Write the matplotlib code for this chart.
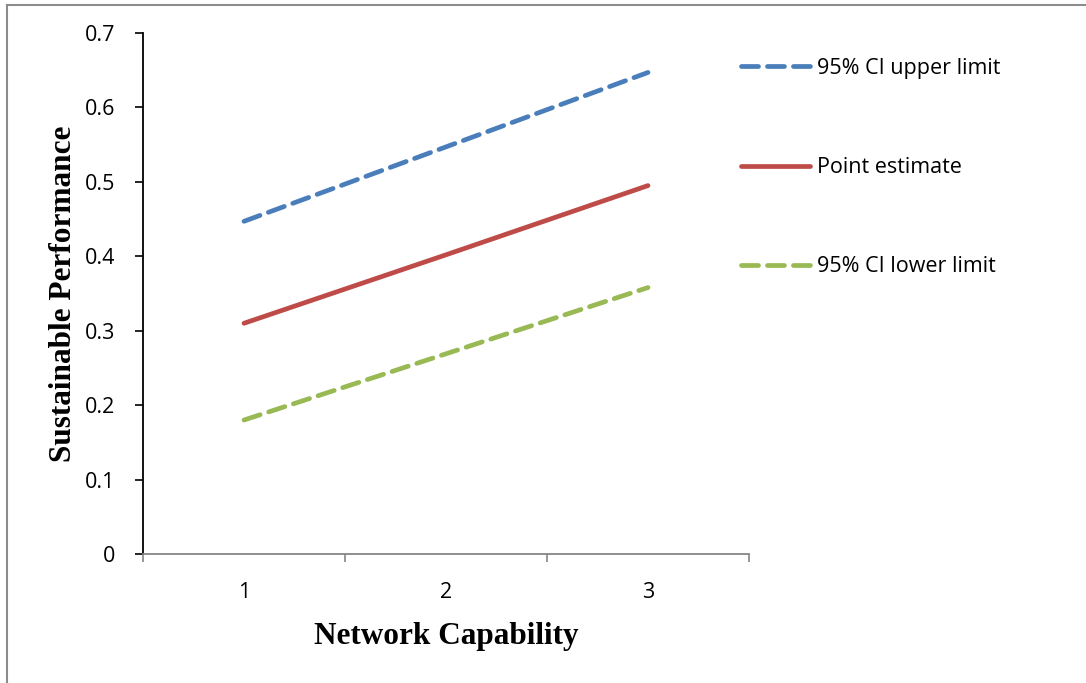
import matplotlib.pyplot as plt
from matplotlib.lines import Line2D

# Data
categories = [1, 2, 3]
upper = [0.447, 0.547, 0.647]
point = [0.310, 0.402, 0.495]
lower = [0.180, 0.269, 0.358]
labels = ['95% CI upper limit', 'Point estimate', '95% CI lower limit']

tick_font = 'Open Sans'
title_font = 'Liberation Serif'
fs = 15.5

fig = plt.figure(figsize=(10.86, 6.83), dpi=100)
W, H = 1086, 683

# axes box: x 143..749 px, y 33..554 px
ax = fig.add_axes([143 / W, 1 - 554 / H, 606 / W, 521 / H])

lw = 3.4
dash = (3.6, 1.9)
ax.plot(categories, upper, color='#4A7EBB', lw=lw, linestyle=(0, dash),
        dash_capstyle='round', label=labels[0])
ax.plot(categories, point, color='#BE4B48', lw=lw, solid_capstyle='round',
        label=labels[1])
ax.plot(categories, lower, color='#98B954', lw=lw, linestyle=(0, dash),
        dash_capstyle='round', label=labels[2])

ax.set_xlim(0.5, 3.5)
ax.set_ylim(0, 0.7)
ax.set_yticks([0, 0.1, 0.2, 0.3, 0.4, 0.5, 0.6, 0.7])
ax.set_yticklabels(['0', '0.1', '0.2', '0.3', '0.4', '0.5', '0.6', '0.7'],
                   fontfamily=tick_font, fontsize=fs)
ax.set_xticks([1, 2, 3])
ax.set_xticklabels(['1', '2', '3'], fontfamily=tick_font, fontsize=fs)
ax.set_xticks([0.5, 1.5, 2.5, 3.5], minor=True)
ax.tick_params(axis='x', which='major', length=0, pad=20)
ax.tick_params(axis='x', which='minor', length=6, color='#868686', width=1.2)
ax.tick_params(axis='y', length=6, color='black', width=1.2, pad=14)

for s in ['top', 'right']:
    ax.spines[s].set_visible(False)
ax.spines['left'].set_color('black')
ax.spines['left'].set_linewidth(1.3)
ax.spines['bottom'].set_color('#868686')
ax.spines['bottom'].set_linewidth(1.3)

ax.set_xlabel('Network Capability', fontfamily=title_font, fontweight='bold',
              fontsize=22.5, labelpad=14)
ax.set_ylabel('Sustainable Performance', fontfamily=title_font, fontweight='bold',
              fontsize=22.5, labelpad=5)

leg = ax.legend(loc='upper left', bbox_to_anchor=(741 / W, 1 - 58 / H),
                bbox_transform=fig.transFigure, frameon=False,
                prop={'family': tick_font, 'size': fs},
                handlelength=3.2, handletextpad=0.35, labelspacing=3.63,
                borderpad=0, borderaxespad=0)

# outer gray frame (left and top edges)
fig.add_artist(Line2D([7 / W, 7 / W], [0, 1 - 5 / H], transform=fig.transFigure,
                      color='#8c8c8c', lw=1.5))
fig.add_artist(Line2D([7 / W, 1], [1 - 5 / H, 1 - 5 / H], transform=fig.transFigure,
                      color='#8c8c8c', lw=1.5))

fig.savefig('out.png', dpi=100)
